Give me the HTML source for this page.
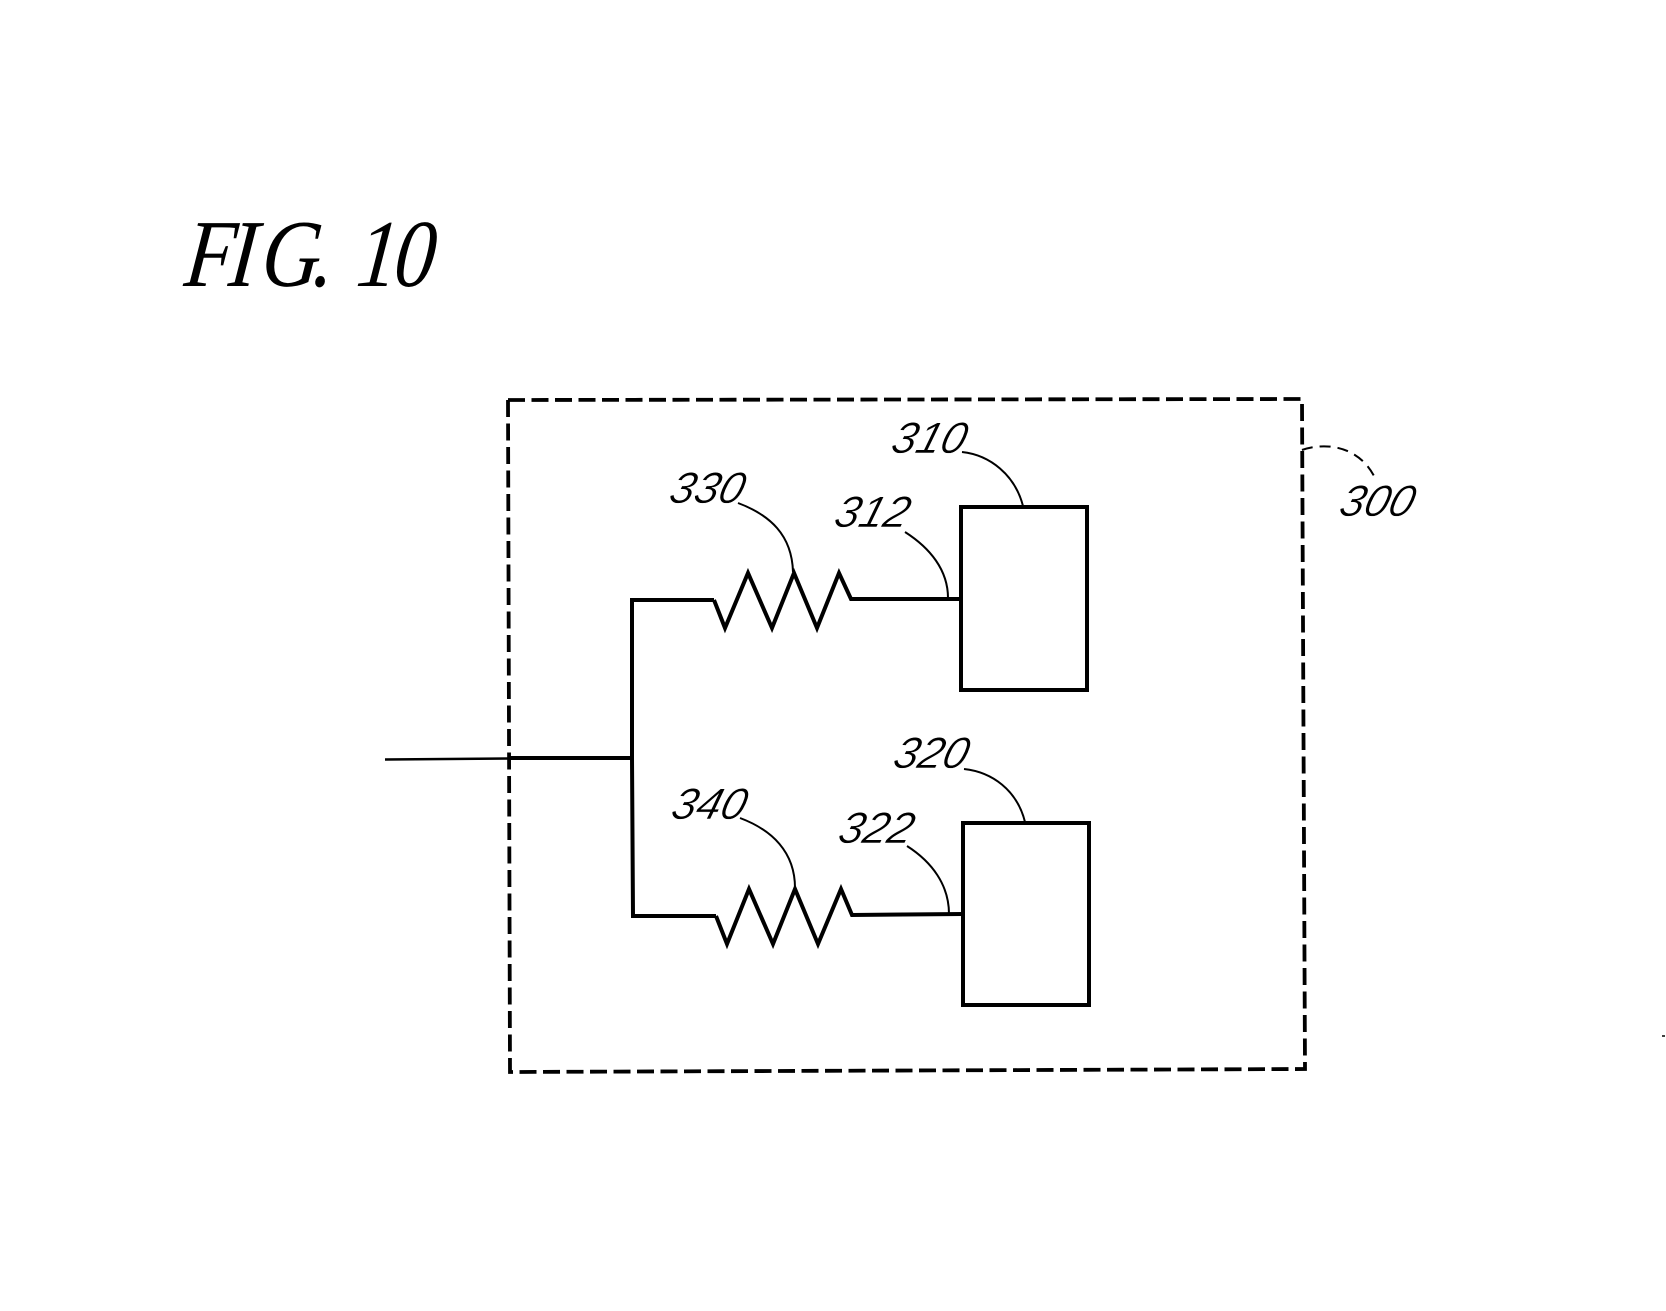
<!DOCTYPE html>
<html><head><meta charset="utf-8"><style>
html,body{margin:0;padding:0;background:#fff;width:1666px;height:1311px;overflow:hidden}
svg{display:block}
.l{font-family:"Liberation Sans",sans-serif;font-style:italic;font-size:44px;fill:#000;stroke:#fff;stroke-width:.5}
.w{fill:none;stroke:#000;stroke-width:4;stroke-linejoin:miter}
.t{fill:none;stroke:#000;stroke-width:2}
</style></head><body>
<svg width="1666" height="1311" viewBox="0 0 1666 1311" xmlns="http://www.w3.org/2000/svg">
<rect width="1666" height="1311" fill="#fff"/>
<text transform="translate(183,286) skewX(-6) scale(.85,1)" x="0 52 90 151 185 202 246" font-family="'Liberation Serif',serif" font-style="italic" font-size="96" fill="#000">FIG. 10</text>
<path d="M508,400 L1302,399 L1305,1069 L510,1072 Z" fill="none" stroke="#000" stroke-width="3.8" stroke-dasharray="17 6.5"/>
<path d="M385,759.5 L510,758.5" fill="none" stroke="#000" stroke-width="2.6"/>
<path d="M510,758 L632,758" class="w"/>
<path d="M714,600 L632,600 L632,758 L633,916 L716,916" class="w"/>
<path d="M714,600 L725,628 L748,573 L772,628 L794,573 L817,628 L839,573 L851,599 L961,599" class="w"/>
<path d="M716,916 L727,944 L749,889 L773,944 L795,889 L818,944 L841,889 L852,915 L963,914" class="w"/>
<rect x="961" y="507" width="126" height="183" class="w"/>
<rect x="963" y="823" width="126" height="182" class="w"/>
<path d="M962,452 C990,455 1015,475 1023,506" class="t"/>
<path d="M738,503 C770,515 792,535 793,572" class="t"/>
<path d="M905,532 C930,548 948,570 948,598" class="t"/>
<path d="M964,769 C992,772 1017,790 1025,822" class="t"/>
<path d="M740,818 C772,830 795,852 795,888" class="t"/>
<path d="M907,846 C932,862 949,885 949,914" class="t"/>
<path d="M1302,450 C1325,442 1360,445 1376,480" class="t" stroke-dasharray="11 7"/>
<g class="l">
<text transform="translate(889,453) skewX(-16)">310</text>
<text transform="translate(667,503) skewX(-16)">330</text>
<text transform="translate(832,527) skewX(-16)">312</text>
<text transform="translate(891,768) skewX(-16)">320</text>
<text transform="translate(669,819) skewX(-16)">340</text>
<text transform="translate(836,843) skewX(-16)">322</text>
<text transform="translate(1337,516) skewX(-16)">300</text>
</g>
<path d="M1662,1036 h3" stroke="#000" stroke-width="1.5"/>
</svg>
</body></html>
